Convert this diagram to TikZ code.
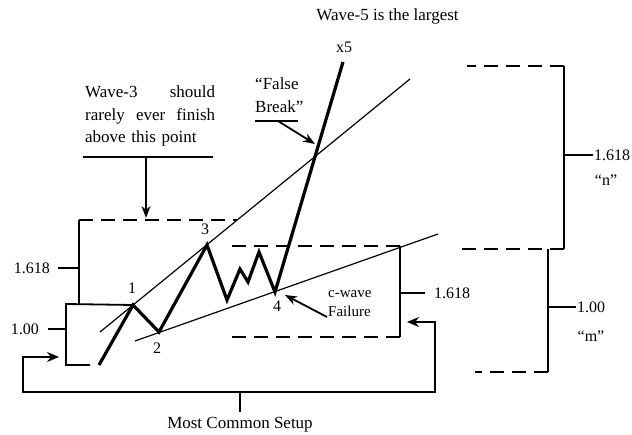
\documentclass[tikz,border=0pt]{standalone}
\usepackage{fontspec}
\setmainfont{Liberation Serif}
\usetikzlibrary{arrows.meta}
\begin{document}
\begin{tikzpicture}[x=1pt,y=-1pt,
  wave/.style={line width=3.2pt,line join=miter,line cap=butt},
  trend/.style={line width=1.2pt},
  brk/.style={line width=1.8pt},
  dsh/.style={line width=1.8pt,dash pattern=on 14pt off 8pt},
  lbl/.style={font=\fontsize{16}{19}\selectfont,inner sep=1pt},
  txt/.style={font=\fontsize{17}{22.5}\selectfont,inner sep=0pt},
  tip/.style={-{Stealth[length=12pt,width=9pt]}},
  ul/.style={line width=1.4pt}]
\useasboundingbox (0,0) rectangle (632,435);
% wave points
\coordinate (w0) at (99,365);
\coordinate (w1) at (133,305);
\coordinate (w2) at (159,332);
\coordinate (w3) at (207,245);
\coordinate (wa) at (227,300);
\coordinate (wb) at (240,269);
\coordinate (wc) at (248,282);
\coordinate (wd) at (259,252);
\coordinate (w4) at (275,292);
\coordinate (w5) at (343,62);
% trend lines
\coordinate (uS) at (100,332);
\coordinate (uE) at (410,79);
\coordinate (lS) at (135,341);
\coordinate (lE) at (438,234);
\draw[trend] (uS) -- (uE);
\draw[trend] (lS) -- (lE);
\draw[wave] (w0) -- (w1) -- (w2) -- (w3) -- (wa) -- (wb) -- (wc) -- (wd) -- (w4) -- (w5);
% wave labels
\node[lbl] (n1) at (132,288) {1};
\node[lbl] (n2) at (157,348) {2};
\node[lbl] (n3) at (205,229) {3};
\node[lbl] (n4) at (277,306) {4};
\node[lbl] (n5) at (344,47) {x5};
% left 1.00 box
\coordinate (b1a) at (66,304);
\coordinate (b1b) at (66,365);
\coordinate (b1c) at (90,365);
\coordinate (b1t) at (66,329);
\draw[brk] (w1) -- (b1a) -- (b1b) -- (b1c);
\node[lbl,anchor=east] (l100a) at (40,329) {1.00};
\draw[brk] (l100a.east) ++(8,0) -- (b1t);
% left 1.618 bracket
\coordinate (b2a) at (79,304);
\coordinate (b2b) at (79,220);
\coordinate (b2c) at (237,220);
\coordinate (b2t) at (79,268);
\draw[brk] (b2a) -- (b2b);
\draw[dsh] (b2b) -- (b2c);
\node[lbl,anchor=east] (l1618a) at (51,268) {1.618};
\draw[brk] (58,268) -- (b2t);
% middle 1.618 box
\coordinate (m1) at (228,246);
\coordinate (m2) at (400,246);
\coordinate (m3) at (400,337);
\coordinate (m4) at (228,337);
\coordinate (mt) at (400,293);
\draw[dsh] (m2) -- (m1);
\draw[dsh] (m3) -- (m4);
\draw[brk] (m2) -- (m3);
\node[lbl,anchor=west] (l1618b) at (433,293) {1.618};
\draw[brk] (mt) -- (425,293);
% right brackets
\coordinate (r1) at (467,66);
\coordinate (r2) at (564,66);
\coordinate (r3) at (564,249);
\coordinate (r4) at (460,249);
\coordinate (rt) at (564,155);
\draw[dsh] (r2) -- (r1);
\draw[dsh] (r3) -- (r4);
\draw[brk] (r2) -- (r3);
\node[lbl,anchor=west] (l1618c) at (593,155) {1.618};
\draw[brk] (rt) -- (l1618c.west);
\node[lbl] (ln) at (606,180) {“n”};
\coordinate (s1) at (548,249);
\coordinate (s2) at (548,372);
\coordinate (s3) at (475,372);
\coordinate (st) at (548,307);
\draw[brk] (s1) -- (s2);
\draw[dsh] (s2) -- (s3);
\node[lbl,anchor=west] (l100b) at (576,307) {1.00};
\draw[brk] (st) -- (l100b.west);
\node[lbl] (lm) at (591,336) {“m”};
% bottom loop
\coordinate (aL) at (59,357);
\coordinate (cL) at (23,392);
\coordinate (cR) at (435,392);
\coordinate (aR) at (407,322);
\coordinate (ct) at (240,392);
\draw[brk,{Stealth[length=12pt,width=10pt]}-{Stealth[length=12pt,width=10pt]}] (aL) -| (cL) -- (cR) |- (aR);
\node[txt,anchor=north] (mcs) at (240,417) {Most Common Setup};
\draw[brk] (ct) -- (240,412);
% top texts
\node[txt] (w5t) at (387.5,16) {Wave-5 is the largest};
\node[txt,text width=130pt,align=left,anchor=north west] (w3t) at (85,86)
  {Wave-3\hfill should\\rarely\hfill ever\hfill finish\\above this point};
\coordinate (u3a) at (83,157);
\coordinate (u3b) at (213,157);
\draw[ul] (u3a) -- (u3b);
\coordinate (u3m) at (146,157);
\coordinate (u3e) at (146,218);
\draw[brk,tip] (u3m) -- (u3e);
\node[txt,align=left,anchor=north west] (fbt) at (255,78) {“False\\Break”};
\coordinate (ufa) at (255,121);
\coordinate (ufb) at (298,121);
\draw[ul] (ufa) -- (ufb);
\coordinate (ufm) at (278,121);
\coordinate (ufe) at (315,144);
\draw[brk,tip] (ufm) -- (ufe);
% c-wave failure
\node[lbl,align=left,anchor=north west,font=\fontsize{15}{19}\selectfont] (cw) at (327,289) {c-wave\\Failure};
\coordinate (cwe) at (285,295);
\draw[brk,tip] (cw.west |- 0,317) -- (cwe);
\end{tikzpicture}
\end{document}
